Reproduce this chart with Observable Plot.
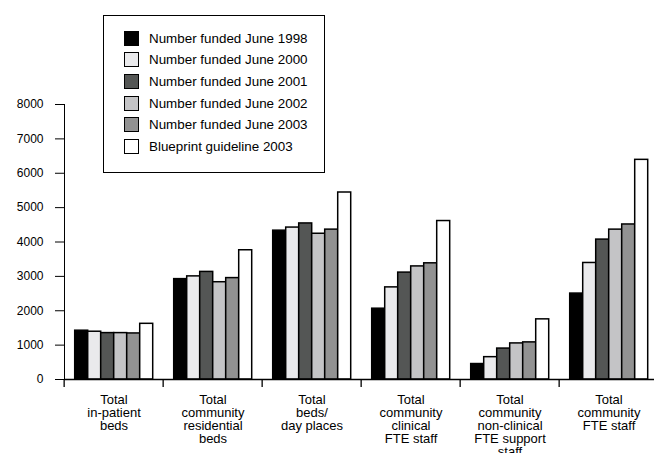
<!DOCTYPE html>
<html>
<head>
<meta charset="utf-8">
<script src="https://cdn.jsdelivr.net/npm/d3@7"></script>
<script src="https://cdn.jsdelivr.net/npm/@observablehq/plot@0.6"></script>
<style>
  html, body { margin: 0; padding: 0; background: #fff; overflow: hidden; }
  #wrap { position: relative; width: 654px; height: 453px; overflow: hidden; font-family: "Liberation Sans", Arial, sans-serif; }
  #chart svg { max-width: none !important; }
  #legend { position: absolute; left: 103px; top: 15px; width: 222px; height: 158px; border: 1px solid #000; background: #fff; box-sizing: border-box; }
  .row { position: absolute; left: 20px; height: 16px; display: flex; align-items: center; font-size: 13.4px; color: #000; white-space: nowrap; }
  .sw { width: 13px; height: 13px; border: 1.5px solid #000; margin-right: 10px; flex: none; }
</style>
</head>
<body>
<div id="wrap"><div id="chart"></div><div id="legend"></div></div>
<script>
const categories = [
  "Total\nin-patient\nbeds",
  "Total\ncommunity\nresidential\nbeds",
  "Total\nbeds/\nday places",
  "Total\ncommunity\nclinical\nFTE staff",
  "Total\ncommunity\nnon-clinical\nFTE support\nstaff",
  "Total\ncommunity\nFTE staff"
];
const series = [
  "Number funded June 1998",
  "Number funded June 2000",
  "Number funded June 2001",
  "Number funded June 2002",
  "Number funded June 2003",
  "Blueprint guideline 2003"
];
const colors = ["#000000", "#eaeaec", "#545655", "#c4c4c6", "#929292", "#ffffff"];
const v1998 = [1420, 2920, 4330, 2060, 450, 2500];
const v2000 = [1390, 3000, 4420, 2680, 650, 3390];
const v2001 = [1350, 3130, 4540, 3110, 900, 4070];
const v2002 = [1350, 2830, 4240, 3290, 1050, 4360];
const v2003 = [1340, 2950, 4360, 3380, 1080, 4510];
const vGuide = [1620, 3760, 5440, 4610, 1750, 6390];
const yTicks = [0, 1000, 2000, 3000, 4000, 5000, 6000, 7000, 8000];

const valueSets = [v1998, v2000, v2001, v2002, v2003, vGuide];
const data = [];
categories.forEach((c, i) => series.forEach((s, j) => data.push({cat: c, series: s, value: valueSets[j][i]})));

const W = 660.5;
const step = (W - 62.3) / categories.length;

const chart = Plot.plot({
  width: W,
  height: 453,
  marginTop: 104,
  marginBottom: 74,
  marginLeft: 62.3,
  marginRight: 0,
  style: {fontFamily: "'Liberation Sans', Arial, sans-serif", fontSize: "12px", color: "#000", background: "#fff", overflow: "visible", maxWidth: "none"},
  fx: {domain: categories, padding: 0, axis: null},
  x: {domain: series, paddingInner: 0, paddingOuter: 0.54, axis: null},
  y: {domain: [0, 8000], ticks: yTicks, tickSize: 9, tickPadding: 12, tickFormat: d => String(d), label: null, line: true},
  color: {domain: series, range: colors},
  marks: [
    Plot.barY(data, {fx: "cat", x: "series", y: "value", fill: "series", stroke: "#000", strokeWidth: 1.5, inset: 0}),
    Plot.ruleY([0], {stroke: "#000", strokeWidth: 1.5}),
    Plot.axisFx({anchor: "bottom", tickSize: 0, tickPadding: 15.5, fontSize: 13, lineHeight: 1, label: null}),
    Plot.axisFx({anchor: "bottom", tickSize: 8, tickFormat: () => "", dx: -step / 2, label: null, strokeWidth: 1.3})
  ]
});
chart.style.maxWidth = "none";
document.getElementById("chart").appendChild(chart);

const legend = document.getElementById("legend");
series.forEach((s, j) => {
  const row = document.createElement("div");
  row.className = "row";
  row.style.top = (14 + j * 21.7) + "px";
  const sw = document.createElement("div");
  sw.className = "sw";
  sw.style.background = colors[j];
  const t = document.createElement("span");
  t.textContent = s;
  row.appendChild(sw);
  row.appendChild(t);
  legend.appendChild(row);
});
</script>
</body>
</html>
